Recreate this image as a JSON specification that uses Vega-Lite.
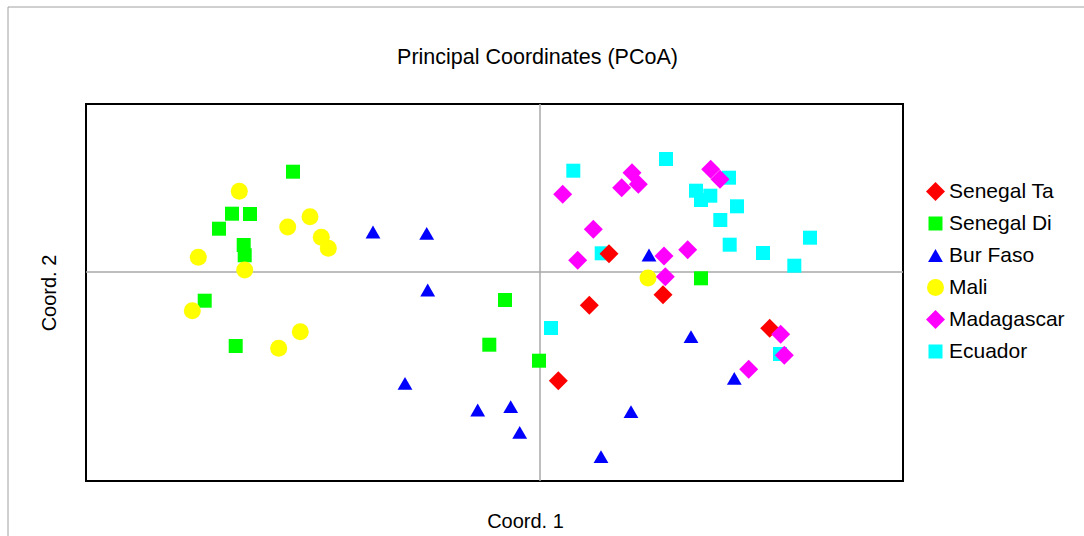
{
  "$schema": "https://vega.github.io/schema/vega-lite/v6.json",
  "width": 817,
  "height": 377,
  "autosize": "none",
  "padding": {"left": 86, "top": 104, "right": 181, "bottom": 55},
  "background": "white",
  "config": {
    "font": "Liberation Sans",
    "view": {"stroke": "black", "strokeWidth": 2},
    "title": {"color": "black"},
    "axis": {"titleColor": "black"}
  },
  "title": {
    "text": "Principal Coordinates (PCoA)",
    "fontSize": 21.5,
    "fontWeight": "normal",
    "anchor": "middle",
    "frame": "group",
    "dx": 43,
    "offset": -62
  },
  "data": {
    "values": [
      {"group": "Ecuador", "x": 0.333, "y": 1.013},
      {"group": "Ecuador", "x": 1.26, "y": 1.13},
      {"group": "Ecuador", "x": 1.89, "y": 0.943},
      {"group": "Ecuador", "x": 1.56, "y": 0.813},
      {"group": "Ecuador", "x": 1.61, "y": 0.72},
      {"group": "Ecuador", "x": 1.703, "y": 0.763},
      {"group": "Ecuador", "x": 1.97, "y": 0.657},
      {"group": "Ecuador", "x": 1.803, "y": 0.52},
      {"group": "Ecuador", "x": 1.897, "y": 0.273},
      {"group": "Ecuador", "x": 2.23, "y": 0.19},
      {"group": "Ecuador", "x": 2.7, "y": 0.343},
      {"group": "Ecuador", "x": 2.543, "y": 0.063},
      {"group": "Ecuador", "x": 0.617, "y": 0.187},
      {"group": "Ecuador", "x": 0.11, "y": -0.56},
      {"group": "Ecuador", "x": 2.4, "y": -0.82},
      {"group": "Senegal Ta", "x": 0.69, "y": 0.183},
      {"group": "Senegal Ta", "x": 1.23, "y": -0.227},
      {"group": "Senegal Ta", "x": 0.493, "y": -0.333},
      {"group": "Senegal Ta", "x": 2.297, "y": -0.563},
      {"group": "Senegal Ta", "x": 0.183, "y": -1.087},
      {"group": "\u00a0Senegal Di", "x": -2.47, "y": 1.003},
      {"group": "\u00a0Senegal Di", "x": -3.08, "y": 0.583},
      {"group": "\u00a0Senegal Di", "x": -2.9, "y": 0.58},
      {"group": "\u00a0Senegal Di", "x": -3.21, "y": 0.433},
      {"group": "\u00a0Senegal Di", "x": -2.963, "y": 0.27},
      {"group": "\u00a0Senegal Di", "x": -2.953, "y": 0.167},
      {"group": "\u00a0Senegal Di", "x": -3.353, "y": -0.287},
      {"group": "\u00a0Senegal Di", "x": -3.043, "y": -0.74},
      {"group": "\u00a0Senegal Di", "x": -0.35, "y": -0.28},
      {"group": "\u00a0Senegal Di", "x": -0.507, "y": -0.727},
      {"group": "\u00a0Senegal Di", "x": -0.01, "y": -0.887},
      {"group": "\u00a0Senegal Di", "x": 1.61, "y": -0.063},
      {"group": "\u00a0Bur Faso", "x": -1.67, "y": 0.4},
      {"group": "\u00a0Bur Faso", "x": -1.133, "y": 0.387},
      {"group": "\u00a0Bur Faso", "x": -1.123, "y": -0.18},
      {"group": "\u00a0Bur Faso", "x": -1.35, "y": -1.113},
      {"group": "\u00a0Bur Faso", "x": -0.623, "y": -1.38},
      {"group": "\u00a0Bur Faso", "x": -0.293, "y": -1.347},
      {"group": "\u00a0Bur Faso", "x": -0.203, "y": -1.603},
      {"group": "\u00a0Bur Faso", "x": 1.09, "y": 0.17},
      {"group": "\u00a0Bur Faso", "x": 1.51, "y": -0.647},
      {"group": "\u00a0Bur Faso", "x": 1.943, "y": -1.063},
      {"group": "\u00a0Bur Faso", "x": 0.91, "y": -1.397},
      {"group": "\u00a0Bur Faso", "x": 0.61, "y": -1.847},
      {"group": "Mali", "x": -3.007, "y": 0.807},
      {"group": "Mali", "x": -2.523, "y": 0.45},
      {"group": "Mali", "x": -2.3, "y": 0.553},
      {"group": "Mali", "x": -2.187, "y": 0.347},
      {"group": "Mali", "x": -2.117, "y": 0.237},
      {"group": "Mali", "x": -3.417, "y": 0.147},
      {"group": "Mali", "x": -2.953, "y": 0.02},
      {"group": "Mali", "x": -3.477, "y": -0.387},
      {"group": "Mali", "x": -2.397, "y": -0.597},
      {"group": "Mali", "x": -2.613, "y": -0.763},
      {"group": "Mali", "x": 1.08, "y": -0.06},
      {"group": "Madagascar", "x": 0.92, "y": 0.993},
      {"group": "Madagascar", "x": 0.817, "y": 0.843},
      {"group": "Madagascar", "x": 0.983, "y": 0.877},
      {"group": "Madagascar", "x": 0.227, "y": 0.777},
      {"group": "Madagascar", "x": 1.707, "y": 1.027},
      {"group": "Madagascar", "x": 1.8, "y": 0.927},
      {"group": "Madagascar", "x": 0.533, "y": 0.427},
      {"group": "Madagascar", "x": 0.377, "y": 0.117},
      {"group": "Madagascar", "x": 1.24, "y": 0.16},
      {"group": "Madagascar", "x": 1.477, "y": 0.223},
      {"group": "Madagascar", "x": 1.253, "y": -0.047},
      {"group": "Madagascar", "x": 2.407, "y": -0.623},
      {"group": "Madagascar", "x": 2.443, "y": -0.833},
      {"group": "Madagascar", "x": 2.087, "y": -0.973}
    ]
  },
  "layer": [
    {
      "data": {"values": [{}]},
      "mark": {"type": "rect", "fill": null, "stroke": "#a0a0a0", "strokeWidth": 1, "clip": false},
      "encoding": {
        "x": {"datum": -5.32, "type": "quantitative",
              "axis": {"title": "Coord. 1", "labels": false, "ticks": false, "domain": false, "grid": false,
                       "titleFontSize": 20, "titleFontWeight": "normal", "titlePadding": 30, "titleX": 439}},
        "x2": {"datum": 7},
        "y": {"datum": 2.65, "type": "quantitative",
              "axis": {"title": "Coord. 2", "labels": false, "ticks": false, "domain": false, "grid": false,
                       "titleFontSize": 20, "titleFontWeight": "normal", "titlePadding": 27}},
        "y2": {"datum": -3.5}
      }
    },
    {
      "data": {"values": [{}]},
      "mark": {"type": "rule", "stroke": "#a8a8a8", "strokeWidth": 1.5},
      "encoding": {
        "x": {"datum": 0, "type": "quantitative",
              "axis": {"title": "Coord. 1", "labels": false, "ticks": false, "domain": false, "grid": false,
                       "titleFontSize": 20, "titleFontWeight": "normal", "titlePadding": 30, "titleX": 439}}
      }
    },
    {
      "data": {"values": [{}]},
      "mark": {"type": "rule", "stroke": "#a8a8a8", "strokeWidth": 1.5},
      "encoding": {
        "y": {"datum": 0, "type": "quantitative",
              "axis": {"title": "Coord. 2", "labels": false, "ticks": false, "domain": false, "grid": false,
                       "titleFontSize": 20, "titleFontWeight": "normal", "titlePadding": 27}}
      }
    },
    {
      "mark": {"type": "point", "filled": true, "opacity": 1, "strokeWidth": 0},
      "encoding": {
        "x": {
          "field": "x", "type": "quantitative",
          "scale": {"domain": [-4.54, 3.63], "nice": false, "zero": false},
          "axis": {"title": "Coord. 1", "labels": false, "ticks": false, "domain": false, "grid": false,
                   "titleFontSize": 20, "titleFontWeight": "normal", "titlePadding": 30, "titleX": 439}
        },
        "y": {
          "field": "y", "type": "quantitative",
          "scale": {"domain": [-2.09, 1.68], "nice": false, "zero": false},
          "axis": {"title": "Coord. 2", "labels": false, "ticks": false, "domain": false, "grid": false,
                   "titleFontSize": 20, "titleFontWeight": "normal", "titlePadding": 27}
        },
        "color": {
          "field": "group", "type": "nominal",
          "scale": {
            "domain": ["Senegal Ta", "\u00a0Senegal Di", "\u00a0Bur Faso", "Mali", "Madagascar", "Ecuador"],
            "range": ["#ff0000", "#00ff00", "#0000ff", "#ffff00", "#ff00ff", "#00ffff"]
          },
          "legend": {
            "title": null, "orient": "none", "legendX": 839, "legendY": 77,
            "labelFontSize": 21, "labelColor": "black", "symbolSize": 169, "rowPadding": 10,
            "labelOffset": 3, "padding": 0, "symbolStrokeWidth": 0
          }
        },
        "shape": {
          "field": "group", "type": "nominal",
          "scale": {
            "domain": ["Senegal Ta", "\u00a0Senegal Di", "\u00a0Bur Faso", "Mali", "Madagascar", "Ecuador"],
            "range": ["diamond", "square", "triangle-up", "circle", "diamond", "square"]
          },
          "legend": {
            "title": null, "orient": "none", "legendX": 839, "legendY": 77,
            "labelFontSize": 21, "labelColor": "black", "symbolSize": 169, "rowPadding": 10,
            "labelOffset": 3, "padding": 0, "symbolStrokeWidth": 0
          }
        },
        "size": {
          "field": "group", "type": "nominal",
          "scale": {
            "type": "ordinal",
            "domain": ["Senegal Ta", "\u00a0Senegal Di", "\u00a0Bur Faso", "Mali", "Madagascar", "Ecuador"],
            "range": [361, 196, 220, 289, 361, 196]
          },
          "legend": null
        }
      }
    }
  ]
}
